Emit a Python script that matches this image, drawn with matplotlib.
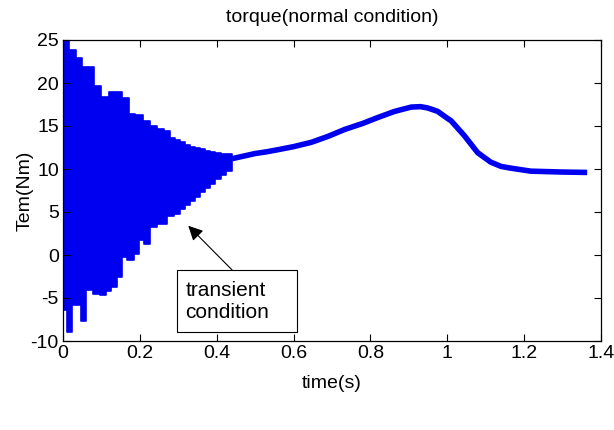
import matplotlib
matplotlib.use("Agg")
import matplotlib.pyplot as plt
from matplotlib.patches import Rectangle

plt.rcParams['font.family'] = ['Liberation Sans', 'DejaVu Sans']
plt.rcParams['axes.unicode_minus'] = False

# Transient part: step envelope (start time of each step, upper value, lower value)
trans_t = [0.000, 0.011, 0.016, 0.024, 0.033, 0.046, 0.050, 0.061, 0.078, 0.081,
           0.097, 0.099, 0.112, 0.121, 0.124, 0.141, 0.154, 0.167, 0.171, 0.184,
           0.188, 0.197, 0.208, 0.210, 0.227, 0.245, 0.262, 0.271, 0.279, 0.288,
           0.292, 0.305, 0.318, 0.331, 0.344, 0.357, 0.370, 0.383, 0.396, 0.410,
           0.425, 0.440]
trans_hi = [24.9, 24.9, 23.8, 23.8, 22.9, 22.9, 21.9, 21.9, 21.9, 19.6,
            19.6, 18.4, 18.4, 19.0, 19.0, 19.0, 18.2, 18.2, 16.4, 16.4,
            16.3, 16.3, 15.6, 15.6, 15.0, 14.7, 14.4, 14.4, 13.6, 13.6,
            13.4, 13.1, 12.8, 12.6, 12.4, 12.3, 12.1, 12.0, 11.9, 11.8,
            11.8, 11.8]
trans_lo = [-6.4, -8.9, -8.9, -5.8, -5.8, -7.7, -7.7, -4.1, -4.5, -4.5,
            -4.6, -4.6, -4.2, -4.2, -3.7, -2.5, -0.2, -0.6, -0.6, 0.1,
            0.1, 1.7, 1.7, 1.3, 3.2, 3.6, 3.6, 4.5, 4.5, 4.8,
            4.8, 5.3, 5.8, 6.3, 6.8, 7.3, 7.8, 8.3, 8.8, 9.3,
            9.8, 9.8]

# Steady part (time, torque)
steady_t = [0.44, 0.47, 0.50, 0.53, 0.56, 0.60, 0.646, 0.69, 0.733, 0.78,
            0.82, 0.863, 0.906, 0.93, 0.949, 0.975, 1.00, 1.01, 1.044, 1.079,
            1.113, 1.14, 1.165, 1.217, 1.295, 1.364]
steady_v = [11.2, 11.5, 11.8, 12.0, 12.25, 12.6, 13.1, 13.8, 14.6, 15.3,
            16.0, 16.7, 17.2, 17.25, 17.1, 16.7, 15.9, 15.6, 13.9, 11.9,
            10.8, 10.3, 10.1, 9.75, 9.65, 9.6]

xticks = [0, 0.2, 0.4, 0.6, 0.8, 1, 1.2, 1.4]
xticklabels = ['0', '0.2', '0.4', '0.6', '0.8', '1', '1.2', '1.4']
yticks = [-10, -5, 0, 5, 10, 15, 20, 25]

blue = '#0000F0'
fig = plt.figure(figsize=(6.14, 4.30), dpi=100)
ax = fig.add_axes([63/614, 1-341/430, (601-63)/614, (341-40)/430])

ax.fill_between(trans_t, trans_lo, trans_hi, step='post', color=blue, lw=1.2,
                edgecolor=blue)
ax.plot(steady_t, steady_v, color=blue, lw=4.0, solid_capstyle='butt')

ax.set_xlim(0, 1.4)
ax.set_ylim(-10, 25)
ax.set_xticks(xticks)
ax.set_xticklabels(xticklabels)
ax.set_yticks(yticks)
ax.tick_params(direction='in', top=True, right=True, labelsize=14, length=5,
               width=0.8, pad=3)
for s in ax.spines.values():
    s.set_linewidth(0.9)

ax.set_title('torque(normal condition)', fontsize=14, pad=13)
ax.set_xlabel('time(s)', fontsize=14, labelpad=9)
ax.set_ylabel('Tem(Nm)', fontsize=14, labelpad=-2)

# annotation box
ax.add_patch(Rectangle((0.297, -8.95), 0.312, 7.21, fill=True, fc='white',
                       ec='black', lw=0.8, zorder=4))
ax.text(0.318, -5.4, 'transient\ncondition', fontsize=15, ha='left',
        va='center', linespacing=1.25, zorder=5)
ax.annotate('', xy=(0.326, 3.4), xytext=(0.44, -1.74),
            arrowprops=dict(arrowstyle='-|>', color='black', lw=0.8,
                            mutation_scale=22, shrinkA=0, shrinkB=0),
            zorder=5)

fig.savefig('out.png', dpi=100)
